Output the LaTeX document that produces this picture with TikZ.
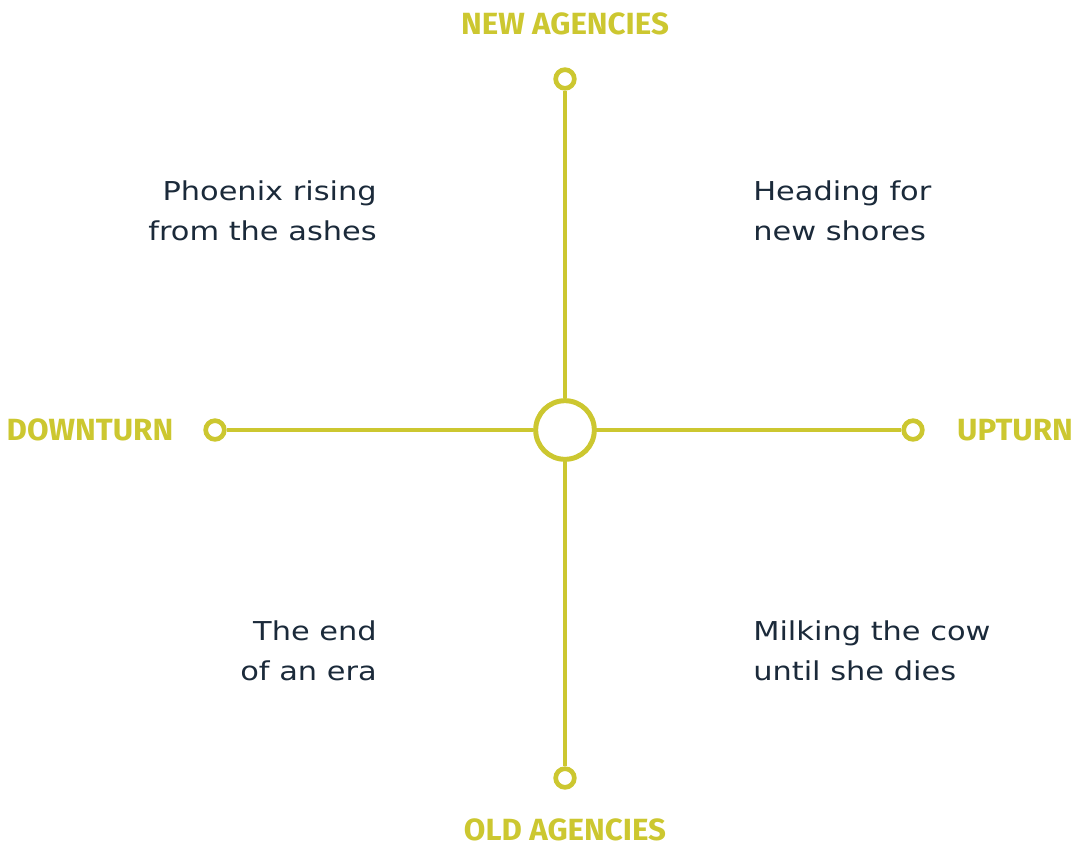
\documentclass[tikz,border=0pt]{standalone}
\usepackage{fontspec}
\setmainfont[FakeStretch=1.17]{DejaVu Sans}
\newfontfamily\labfont[FakeStretch=1.02]{Fira Sans}
\definecolor{axisgreen}{HTML}{CCC730}
\definecolor{inkblue}{HTML}{1B2A3A}
\tikzset{
  hub/.style={circle,draw=axisgreen,line width=3.75pt,fill=white,minimum size=44pt,inner sep=0pt},
  tip/.style={circle,draw=axisgreen,line width=3.5pt,fill=white,minimum size=14pt,inner sep=0pt},
  axislabel/.style={text=axisgreen,font=\labfont\bfseries\fontsize{23}{24}\selectfont,inner sep=0pt},
  quadtext/.style={text=inkblue,font=\fontsize{19.5}{30}\selectfont,inner sep=0pt}
}
\begin{document}
\begin{tikzpicture}[x=0.75pt,y=-0.75pt]
      \useasboundingbox (0,0) rectangle (1074,847);
      \draw
        (565,430) node[hub] (hub){}
        (565,79) node[tip] (top){}
        (565,778) node[tip] (bot){}
        (215,430) node[tip] (lft){}
        (913,430) node[tip] (rgt){};
      \begin{scope}[-,draw=axisgreen,line width=3.5pt]
        \draw (hub) to (top);
        \draw (hub) to (bot);
        \draw (hub) to (lft);
        \draw (hub) to (rgt);
      \end{scope}
      \node[axislabel] (newag) at (565,24) {NEW AGENCIES};
      \node[axislabel] (oldag) at (565,830) {OLD AGENCIES};
      \node[axislabel] (down) at (90,430) {DOWNTURN};
      \node[axislabel] (up) at (1015,430) {UPTURN};
      \node[quadtext,align=right,anchor=east] (phoenix) at (377,211) {Phoenix rising\\from the ashes};
      \node[quadtext,align=left,anchor=west] (shores) at (753,211) {Heading for\\new shores};
      \node[quadtext,align=right,anchor=east] (era) at (377,651) {The end\\of an era};
      \node[quadtext,align=left,anchor=west] (cow) at (753,651) {Milking the cow\\until she dies};
    \end{tikzpicture}
\end{document}
